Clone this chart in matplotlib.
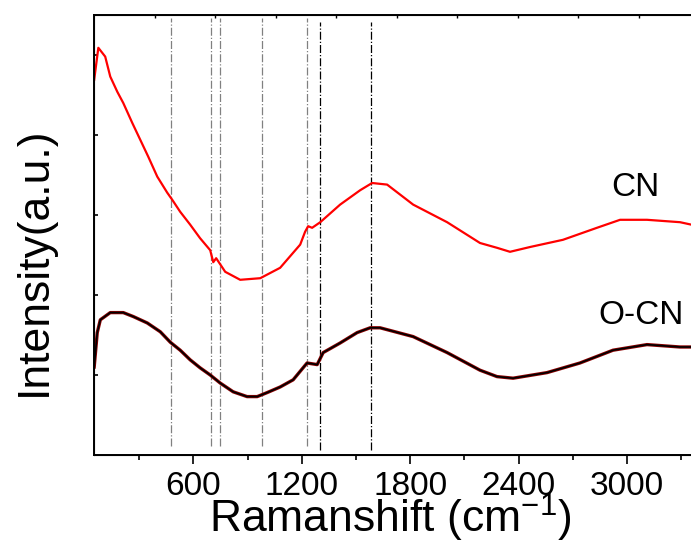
import matplotlib
matplotlib.use("Agg")
import matplotlib.pyplot as plt
import numpy as np

plt.rcParams['font.family'] = ['Liberation Sans', 'DejaVu Sans']
plt.rcParams['mathtext.fontset'] = 'custom'
plt.rcParams['mathtext.rm'] = 'Liberation Sans'
plt.rcParams['mathtext.it'] = 'Liberation Sans'
plt.rcParams['mathtext.default'] = 'regular'

# datos (cm-1, intensidad en u.a.)
cn_x = [51, 74, 112, 140, 179, 212, 262, 306, 350, 400, 455, 483, 527, 582, 637, 693, 710, 726,
        776, 859, 970, 1080, 1191, 1218, 1235, 1257, 1302, 1412, 1523, 1589, 1672, 1816, 2004,
        2186, 2280, 2352, 2463, 2645, 2833, 2961, 3110, 3293, 3354, 3400]
cn_y = [4.69, 5.09, 4.98, 4.73, 4.54, 4.40, 4.15, 3.94, 3.73, 3.48, 3.28, 3.19, 3.04, 2.88, 2.71,
        2.56, 2.41, 2.46, 2.29, 2.19, 2.21, 2.34, 2.63, 2.79, 2.86, 2.84, 2.91, 3.13, 3.31, 3.40,
        3.38, 3.13, 2.91, 2.65, 2.59, 2.54, 2.60, 2.69, 2.84, 2.94, 2.94, 2.91, 2.88, 2.87]

ocn_x = [51, 68, 85, 140, 212, 268, 345, 417, 472, 527, 582, 637, 693, 748, 820, 897, 953, 1008,
         1080, 1152, 1229, 1285, 1318, 1412, 1506, 1578, 1633, 1816, 2004, 2186, 2280, 2369,
         2557, 2739, 2922, 3110, 3293, 3354, 3400]
ocn_y = [1.10, 1.53, 1.69, 1.78, 1.78, 1.73, 1.65, 1.54, 1.41, 1.31, 1.19, 1.09, 1.00, 0.90, 0.79,
         0.73, 0.73, 0.78, 0.85, 0.94, 1.15, 1.13, 1.28, 1.40, 1.53, 1.59, 1.59, 1.48, 1.28, 1.06,
         0.98, 0.96, 1.03, 1.15, 1.31, 1.38, 1.35, 1.35, 1.35]

picos_gris = [477, 700, 747, 979, 1230]
picos_negro = [1303, 1585]

xticks = [600, 1200, 1800, 2400, 3000]
xminor = [300, 900, 1500, 2100, 2700, 3300]
top_ticks = [385, 720, 1055, 1390, 1725, 2060, 2395, 2730, 3065]

fig = plt.figure(figsize=(6.91, 5.41), dpi=100)
ax = fig.add_axes([94/691, 1-455/541, 605.4/691, 440/541])

ax.vlines(picos_gris, 0.11, 5.46, colors="gray", linestyles="-.", linewidth=0.9)
ax.vlines(picos_negro, 0.06, 5.41, colors="black", linestyles="-.", linewidth=0.9)

ax.plot(cn_x, cn_y, color="red", linewidth=1.6)
ax.plot(ocn_x, ocn_y, color="#8b0000", linewidth=2.4)
ax.plot(ocn_x, ocn_y, color="black", linewidth=1.2)

ax.text(3044, 3.34, "CN", fontsize=24, ha="center", va="center")
ax.text(3076, 1.75, "O-CN", fontsize=24, ha="center", va="center")

ax.set_xlim(50, 3400)
ax.set_ylim(0, 5.5)
ax.set_xticks(xticks)
ax.set_xticks(xminor, minor=True)
ax.set_yticks([1, 2, 3, 4, 5])
ax.set_yticklabels([])
ax.tick_params(axis="x", direction="out", length=6.5, width=1.2, labelsize=24, pad=5)
ax.tick_params(axis="x", which="minor", direction="out", length=3.4, width=1.2)
ax.tick_params(axis="y", direction="in", length=3, width=1.2)
for s in ax.spines.values():
    s.set_linewidth(1.4)

ax2 = ax.twiny()
ax2.set_xlim(50, 3400)
ax2.set_xticks(top_ticks)
ax2.set_xticklabels([])
ax2.tick_params(axis="x", direction="in", length=2, width=1)

fig.text(390/691, 1-533/541, "Ramanshift (cm$^{-1}$)", fontsize=32, ha="center", va="baseline")
fig.text(34/691, 1-261/541, "Intensity(a.u.)", fontsize=32, rotation=90, ha="center", va="center")

fig.savefig("out.png", dpi=100)
